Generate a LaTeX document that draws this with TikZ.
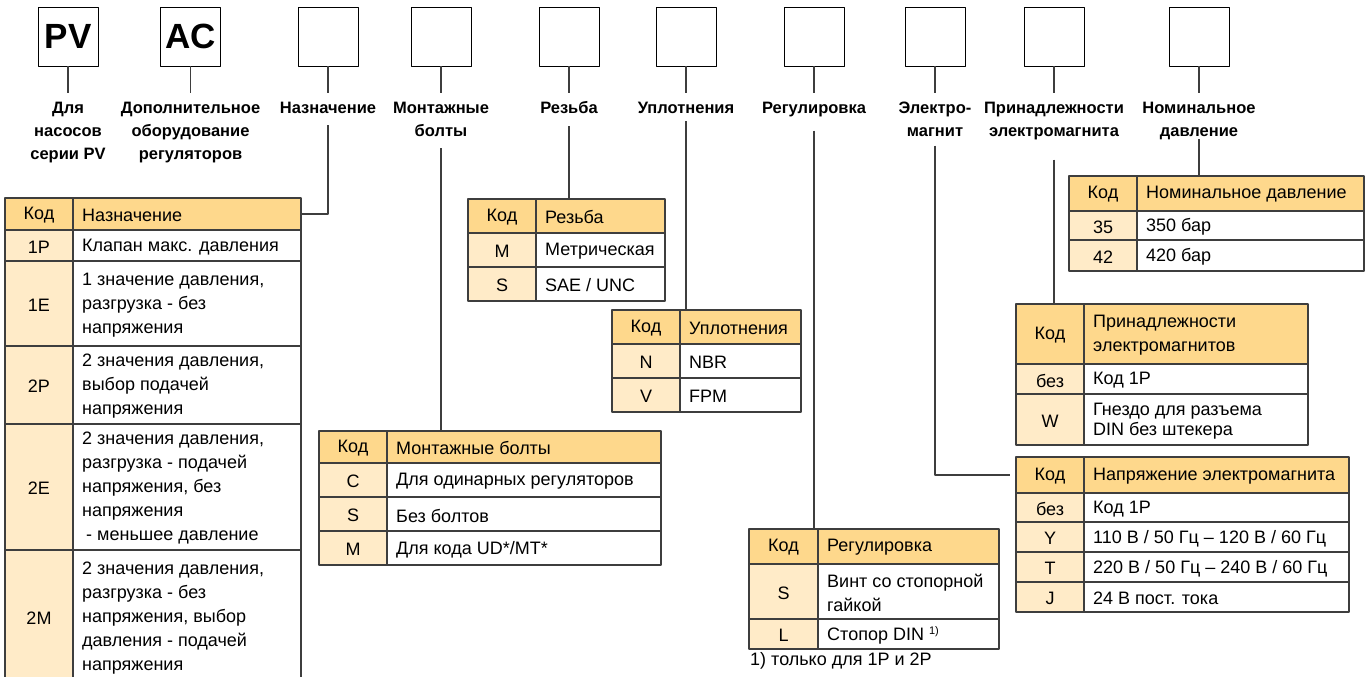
\documentclass[tikz,border=0pt]{standalone}
\usepackage{fontspec}
\setmainfont{Liberation Sans}
\usepackage{tikz}
\usetikzlibrary{positioning}
\definecolor{hdrfill}{RGB}{254,216,140}
\definecolor{codefill}{RGB}{255,235,200}
\definecolor{rulec}{RGB}{62,62,62}
\newcommand{\tabhead}[7]{%
  \node[hdr, minimum width={(#4-#2)*1pt}, minimum height={(#6-#5)*1pt}] (#1) at (#2,#5) {};
  \draw[cell] (#3,#5) -- (#3,#6);
  \node[txt] (#1k) at ({(#2+#3)/2},{(#5+#6)/2+1}) {Код};
  \node[txt, anchor=west] (#1t) at ({#3+9},{(#5+#6)/2+1}) {#7};}
\newcommand{\tabrows}[5]{%
  \foreach \cd/\tx/\yt/\yb in {#5}{
    \draw[cell, fill=codefill] (#2,\yt) rectangle (#3,\yb);
    \draw[cell, fill=white] (#3,\yt) rectangle (#4,\yb);
    \node[txt] (#1-\cd) at ({(#2+#3)/2},{(\yt+\yb)/2+1.5}) {\cd};
    \node[txt, anchor=west] (#1-\cd-t) at ({#3+9},{(\yt+\yb)/2+1.5}) {\tx};}}
\newcommand{\supone}{\raisebox{6pt}{\fontsize{11}{11}\selectfont 1)}}

\begin{document}
\begin{tikzpicture}[x=1pt, y=-1pt, line join=round,
    box/.style={draw=black, line width=0.9pt, minimum width=60pt, minimum height=59pt,
      inner sep=0pt, font=\fontsize{35}{35}\selectfont\bfseries},
    lbl/.style={align=center, inner sep=0pt, font=\fontsize{16.5}{23}\selectfont\bfseries},
    conn/.style={draw=rulec, line width=1.1pt},
    stem/.style={conn, shorten >=8pt},
    cell/.style={draw=rulec, line width=1.1pt},
    hdr/.style={cell, fill=hdrfill, anchor=north west, inner sep=0pt, outer sep=0pt},
    txt/.style={align=left, inner sep=0pt, font=\fontsize{18}{24}\selectfont}]
  \useasboundingbox (0,0) rectangle (1365,677);
  \clip (0,0) rectangle (1365,677);
  \node[box] (B1) at (68,36.5) {PV};
  \node[box] (B2) at (190.5,36.5) {AC};
  \node[box] (B3) at (328,36.5) {}; \node[box] (B4) at (441,36.5) {};
  \node[box] (B5) at (569,36.5) {}; \node[box] (B6) at (686,36.5) {};
  \node[box] (B7) at (814,36.5) {}; \node[box] (B8) at (935,36.5) {};
  \node[box] (B9) at (1054,36.5) {}; \node[box] (B10) at (1199,36.5) {};
  \node[lbl, below=35pt of B1] (L1) {Для\\насосов\\серии PV};
  \node[lbl, below=35pt of B2] (L2) {Дополнительное\\оборудование\\регуляторов};
  \node[lbl, below=35pt of B3] (L3) {Назначение};
  \node[lbl, below=35pt of B4] (L4) {Монтажные\\болты};
  \node[lbl, below=35pt of B5] (L5) {Резьба};
  \node[lbl, below=35pt of B6] (L6) {Уплотнения};
  \node[lbl, below=35pt of B7] (L7) {Регулировка};
  \node[lbl, below=35pt of B8] (L8) {Электро-\\магнит};
  \node[lbl, below=35pt of B9] (L9) {Принадлежности\\электромагнита};
  \node[lbl, below=35pt of B10] (L10) {Номинальное\\давление};
  \foreach \i in {1,...,10} \draw[stem] (B\i) -- (L\i);

  \tabhead{T1}{5}{73}{301}{198}{230}{Назначение}
  \tabrows{T1}{5}{73}{301}{1P/{Клапан макс. давления}/230/261,
    1E/{1 значение давления,\\разгрузка - без\\напряжения}/261/346,
    2P/{2 значения давления,\\выбор подачей\\напряжения}/346/424,
    2E/{2 значения давления,\\разгрузка - подачей\\напряжения, без\\напряжения\\\hspace*{4pt}- меньшее давление}/424/550,
    2M/{2 значения давления,\\разгрузка - без\\напряжения, выбор\\давления - подачей\\напряжения}/550/683}
  \tabhead{T2}{319}{387}{661}{431}{463}{Монтажные болты}
  \tabrows{T2}{319}{387}{661}{C/{Для одинарных регуляторов}/463/497,
    S/{Без болтов}/497/531, M/{Для кода UD*/MT*}/531/565}
  \tabhead{T3}{468}{536}{665}{199}{233}{Резьба}
  \tabrows{T3}{468}{536}{665}{M/{Метрическая}/233/267, S/{SAE / UNC}/267/301}
  \tabhead{T4}{612}{680}{801}{310}{344}{Уплотнения}
  \tabrows{T4}{612}{680}{801}{N/NBR/344/378, V/FPM/378/412}
  \tabhead{T5}{749}{818}{999}{529}{564}{Регулировка}
  \tabrows{T5}{749}{818}{999}{S/{Винт со стопорной\\гайкой}/564/619,
    L/{Стопор DIN \supone}/619/649}
  \node[txt, anchor=west] (F1) at (750,661) {1) только для 1P и 2P};
  \tabhead{T6}{1069}{1137}{1364}{176}{211}{Номинальное давление}
  \tabrows{T6}{1069}{1137}{1364}{35/{350 бар}/211/240, 42/{420 бар}/240/271}
  \tabhead{T7}{1016}{1084}{1308}{304}{364}{Принадлежности\\электромагнитов}
  \tabrows{T7}{1016}{1084}{1308}{без/{Код 1P}/364/394,
    W/{Гнездо для разъема\\[-4pt]DIN без штекера}/394/445}
  \tabhead{T8}{1016}{1084}{1349}{457}{493}{Напряжение электромагнита}
  \tabrows{T8}{1016}{1084}{1349}{без/{Код 1P}/493/522,
    Y/{110 В / 50 Гц – 120 В / 60 Гц}/522/552,
    T/{220 В / 50 Гц – 240 В / 60 Гц}/552/582,
    J/{24 В пост. тока}/582/612}

  \draw[conn] ([yshift=-12pt]L3.south) |- (T1.east);
  \draw[conn] ([yshift=-12pt]L4.south) -- (L4.south |- T2.north);
  \draw[conn] ([yshift=-12pt]L5.south) -- (L5.south |- T3.north);
  \draw[conn] ([yshift=-8pt]L6.south) -- (L6.south |- T4.north);
  \draw[conn] ([yshift=-14pt]L7.south) -- (L7.south |- T5.north);
  \draw[conn, shorten >=6pt] ([yshift=-9pt]L8.south) |- (T8.west);
  \draw[conn] ([yshift=-20pt]L9.south) -- (L9.south |- T7.north);
  \draw[conn] (L10.south) -- (L10.south |- T6.north);
\end{tikzpicture}
\end{document}
